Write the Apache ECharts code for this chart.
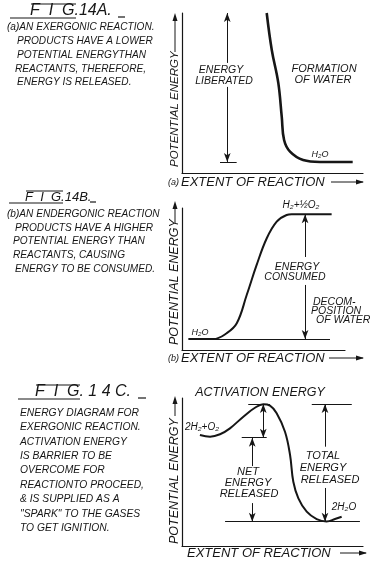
<!DOCTYPE html>
<html><head><meta charset="utf-8">
<script src="https://cdn.jsdelivr.net/npm/echarts@6/dist/echarts.min.js"></script>
<style>html,body{margin:0;padding:0;background:#fff}#c{width:372px;height:563px}</style>
</head><body><div id="c"></div>
<script>
// ---- data (extent of reaction %, potential energy %) ----
const curveA = [[46.8,100],[49.6,76.9],[53.2,56.3],[55.1,35.2],[56.4,20.6],[59.7,13.3],[66.9,8.1],[76.2,6.9],[94.3,6.9]];
const curveB = [[3.9,7.7],[19.2,7.7],[27.4,11.8],[33.6,18.8],[39.7,38.7],[45.8,59.9],[52,78.7],[58.1,90.4],[64.2,95.1],[67.3,95.6],[91.8,95.6]];
const curveC = [[9.9,75],[15.5,73.9],[21,75.5],[26.5,79.5],[33.9,87.4],[40.3,93.4],[44.9,95.7],[48.6,94.8],[52.3,89.7],[56.9,77.2],[59.7,61.5],[61.5,43.4],[64.3,32.2],[68.9,23.2],[74.4,18.2],[79.9,16.6],[84.5,18.2],[88.2,19.8]];
// guide segments: [x1,y1,x2,y2,arrowAtStart,arrowAtEnd]
const guidesA = [[25,68.8,25,100,0,1],[25,53.8,25,6.9,0,1],[21,6.9,30.2,6.9,0,0]];
const guidesB = [[75.5,65.5,75.5,95.6,0,1],[75.5,45.8,75.5,7.7,0,1],[19.2,7.7,90.8,7.7,0,0]];
const guidesC = [[36.6,95.9,48.6,95.9,0,0],[71.7,95.9,93.8,95.9,0,0],[33,73.2,46.8,73.2,0,0],[23.8,16.4,98.3,16.4,0,0],
  [44.9,73.2,44.9,95.9,1,1],[38.8,54,38.8,73.2,0,1],[38.8,29,38.8,16.4,0,1],[79,67.1,79,95.9,0,1],[79,39.2,79,16.4,0,1]];
// texts
const titles = ['F  I  G.14A.', 'F  I  G.14B.', 'F  I  G. 1 4 C.'];
const paraA = ['(a)AN EXERGONIC REACTION.','PRODUCTS HAVE A LOWER','POTENTIAL ENERGYTHAN','REACTANTS, THEREFORE,','ENERGY IS RELEASED.'];
const paraB = ['(b)AN ENDERGONIC REACTION','PRODUCTS HAVE A HIGHER','POTENTIAL ENERGY THAN','REACTANTS, CAUSING','ENERGY TO BE CONSUMED.'];
const paraC = ['ENERGY DIAGRAM FOR','EXERGONIC REACTION.','ACTIVATION ENERGY','IS BARRIER TO BE','OVERCOME FOR','REACTIONTO PROCEED,','& IS SUPPLIED AS A','"SPARK" TO THE GASES','TO GET IGNITION.'];
const yName = 'POTENTIAL ENERGY';
const xName = 'EXTENT OF REACTION';

const INK = '#161616';
const F = (s) => 'italic ' + s + 'px "Liberation Sans", "DejaVu Sans", sans-serif';

function guideLines(g) {
  return g.map(s => [
    {coord:[s[0],s[1]], symbol: s[4] ? 'arrow' : 'none', symbolSize:[5,9]},
    {coord:[s[2],s[3]], symbol: s[5] ? 'arrow' : 'none', symbolSize:[5,9]}
  ]);
}
function mkSeries(data, guides, idx, w) {
  return {type:'line', data, xAxisIndex:idx, yAxisIndex:idx, smooth:0.4,
    symbol:'none', lineStyle:{color:INK, width:w}, silent:true, animation:false,
    markLine:{silent:true, animation:false, symbol:'none', label:{show:false},
      lineStyle:{color:INK, width:1, type:'solid'}, emphasis:{disabled:true}, data: guideLines(guides)}};
}
const grids = [
  {left:182, top:13, width:181, height:160},
  {left:182, top:208, width:163, height:142},
  {left:182, top:398, width:181, height:148}
];
const axisBase = {type:'value', min:0, max:100, axisTick:{show:false}, axisLabel:{show:false}, splitLine:{show:false},
  axisLine:{show:true, onZero:false, lineStyle:{color:INK, width:1.2}}};

const G = [];
function txt(x, y, text, size, opt) {
  G.push(Object.assign({type:'text', x, y, silent:true,
    style:Object.assign({text, font:F(size), fill:INK, align:'left', verticalAlign:'middle'}, (opt && opt.style) || {})},
    opt && opt.el || {}));
}
function seg(x1,y1,x2,y2,w) { G.push({type:'line', silent:true, shape:{x1,y1,x2,y2}, style:{stroke:INK, lineWidth:w||1}}); }
function head(x,y,dir) {
  const pts = dir==='up' ? [[x,y],[x-2.5,y+8],[x+2.5,y+8]] : [[x,y],[x-8,y-2.5],[x-8,y+2.5]];
  G.push({type:'polygon', silent:true, shape:{points:pts}, style:{fill:INK}});
}

// titles
txt(30, 11, titles[0], 16);
seg(10,18,76,18,1.2); seg(31,4,76,4,1.2); seg(118,17,125,17,1.2);
txt(25, 197, titles[1], 13);
seg(9,203,63,203,1.2); seg(26,191,63,191,1.2); seg(90,202,96,202,1.2);
txt(35, 392, titles[2], 16);
seg(18,399,80,399,1.2); seg(36,385,80,385,1.2); seg(138,398,146,398,1.2);

// paragraphs
const pAx = [7,17,17,15,17];
paraA.forEach((s,i)=>txt(pAx[i], 27 + i*13.9, s, 10.1));
const pBx = [7,15,13,13,15];
paraB.forEach((s,i)=>txt(pBx[i], 214 + i*13.8, s, 10.1));
paraC.forEach((s,i)=>txt(20, 413 + i*14.4, s, 10.3));

// y-axis names (rotated) + arrows : [textBottom, arrowTop, arrowBottom, size]
[[167,13,52,11.5],[345,201,223,12.5],[544,396,416,12.5]].forEach(a=>{
  txt(175, a[0], yName, a[3], {el:{rotation:Math.PI/2}});
  seg(175, a[1]+6, 175, a[2], 1); head(175, a[1], 'up');
});
// x-axis names + arrows
txt(168, 182, '(a)', 9); txt(181, 182, xName, 13);
seg(331,182,363,182,1); head(364,182,'right');
txt(168, 358, '(b)', 9); txt(181, 358, xName, 13);
seg(329,358,363,358,1); head(364,358,'right');
txt(187, 553, xName, 13);
seg(340,553,366,553,1); head(367,553,'right');

// annotations chart A
txt(221, 70, 'ENERGY', 10.5, {style:{align:'center'}});
txt(224, 81, 'LIBERATED', 10.5, {style:{align:'center'}});
txt(324, 69, 'FORMATION', 11, {style:{align:'center'}});
txt(323, 80, 'OF WATER', 11, {style:{align:'center'}});
txt(320, 154, 'H₂O', 9, {style:{align:'center'}});
// chart B
txt(301, 205, 'H₂+½O₂', 10, {style:{align:'center'}});
txt(297, 267, 'ENERGY', 10.5, {style:{align:'center'}});
txt(295, 277, 'CONSUMED', 10.5, {style:{align:'center'}});
txt(313, 302, 'DECOM-', 10.5);
txt(311, 311, 'POSITION', 10.5);
txt(316, 320, 'OF WATER', 10.5);
txt(200, 332, 'H₂O', 9, {style:{align:'center'}});
// chart C
txt(260, 393, 'ACTIVATION ENERGY', 12.5, {style:{align:'center'}});
txt(202, 427, '2H₂+O₂', 10, {style:{align:'center'}});
txt(248, 472, 'NET', 11, {style:{align:'center'}});
txt(248, 483, 'ENERGY', 11, {style:{align:'center'}});
txt(249, 494, 'RELEASED', 11, {style:{align:'center'}});
txt(323, 456, 'TOTAL', 11, {style:{align:'center'}});
txt(323, 468, 'ENERGY', 11, {style:{align:'center'}});
txt(330, 480, 'RELEASED', 11, {style:{align:'center'}});
txt(344, 507, '2H₂O', 10, {style:{align:'center'}});

const chart = echarts.init(document.getElementById('c'), null, {renderer:'canvas'});
chart.setOption({
  backgroundColor:'#fff',
  animation:false,
  grid: grids,
  xAxis: grids.map((g,i)=>Object.assign({gridIndex:i}, axisBase)),
  yAxis: grids.map((g,i)=>Object.assign({gridIndex:i}, axisBase)),
  series: [mkSeries(curveA, guidesA, 0, 2.6), mkSeries(curveB, guidesB, 1, 2), mkSeries(curveC, guidesC, 2, 2)],
  graphic: G
});
</script></body></html>
